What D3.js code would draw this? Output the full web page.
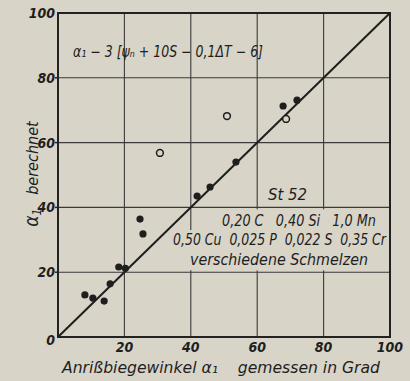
<!DOCTYPE html>
<html>
<head>
<meta charset="utf-8">
<script src="https://cdn.jsdelivr.net/npm/d3@7"></script>
<style>
  body { margin: 0; background: #d8d4c8; }
  text { font-family: "Liberation Sans Narrow", "DejaVu Sans Condensed", sans-serif; font-style: italic; fill: #1e1e1e; }
</style>
</head>
<body>
<div id="chart"></div>
<script>
var filledX = [8.1, 10.5, 13.9, 15.7, 18.3, 20.3, 24.7, 25.6, 41.9, 45.8, 53.6, 67.8, 72.0];
var filledY = [13.0, 12.0, 11.1, 16.4, 21.6, 21.2, 36.4, 31.8, 43.5, 46.3, 54.0, 71.3, 73.1];
var openX = [30.7, 50.9, 68.7];
var openY = [56.8, 68.2, 67.3];
var xTicks = [20, 40, 60, 80, 100];
var yTicks = [0, 20, 40, 60, 80, 100];
var gridVals = [20, 40, 60, 80];

var width = 410, height = 381;
var bg = "#d8d4c8";

var svg = d3.select("#chart").append("svg")
  .attr("width", width)
  .attr("height", height);

svg.append("rect").attr("width", width).attr("height", height).attr("fill", bg);

var x = d3.scaleLinear().domain([0, 100]).range([58, 390]);
var y = d3.scaleLinear().domain([0, 100]).range([337, 13]);

// grid
svg.selectAll(".vg").data(gridVals).enter().append("line")
  .attr("x1", d => x(d)).attr("x2", d => x(d))
  .attr("y1", y(100)).attr("y2", y(0))
  .attr("stroke", "#3a3a3a").attr("stroke-width", 1.1);
svg.selectAll(".hg").data(gridVals).enter().append("line")
  .attr("y1", d => y(d)).attr("y2", d => y(d))
  .attr("x1", x(0)).attr("x2", x(100))
  .attr("stroke", "#3a3a3a").attr("stroke-width", 1.1);

// area behind the steel composition text (hides grid there)
svg.append("rect")
  .attr("x", x(37)).attr("width", x(99.5) - x(37))
  .attr("y", y(33)).attr("height", y(20.6) - y(33))
  .attr("fill", bg);
svg.append("rect")
  .attr("x", x(43)).attr("width", x(99.5) - x(43))
  .attr("y", y(39.4)).attr("height", y(20.6) - y(39.4))
  .attr("fill", bg);

// frame
svg.append("rect")
  .attr("x", x(0)).attr("y", y(100))
  .attr("width", x(100) - x(0)).attr("height", y(0) - y(100))
  .attr("fill", "none").attr("stroke", "#222").attr("stroke-width", 2);

// left ticks
svg.selectAll(".yt").data(yTicks.slice(1, 5)).enter().append("line")
  .attr("x1", x(0) - 3).attr("x2", x(0))
  .attr("y1", d => y(d)).attr("y2", d => y(d))
  .attr("stroke", "#222").attr("stroke-width", 1.5);

// tick labels
svg.selectAll(".xl").data(xTicks).enter().append("text")
  .attr("x", d => x(d)).attr("y", 352)
  .attr("text-anchor", "middle")
  .style("font-size", "14px").style("font-weight", "bold")
  .text(d => d);
svg.selectAll(".yl").data(yTicks).enter().append("text")
  .attr("x", x(0) - 3).attr("y", d => y(d) + 5 + (d === 0 ? 3 : 0))
  .attr("text-anchor", "end")
  .style("font-size", "14px").style("font-weight", "bold")
  .text(d => d);

// diagonal
svg.append("line")
  .attr("x1", x(0)).attr("y1", y(0))
  .attr("x2", x(100)).attr("y2", y(100))
  .attr("stroke", "#1e1e1e").attr("stroke-width", 2);

// points
svg.selectAll(".fp").data(filledX).enter().append("circle")
  .attr("cx", d => x(d))
  .attr("cy", (d, i) => y(filledY[i]))
  .attr("r", 3.6)
  .attr("fill", "#1e1e1e");
svg.selectAll(".op").data(openX).enter().append("circle")
  .attr("cx", d => x(d))
  .attr("cy", (d, i) => y(openY[i]))
  .attr("r", 3.4)
  .attr("fill", bg).attr("stroke", "#1e1e1e").attr("stroke-width", 1.5);

function label(tx, ty, size, len, str) {
  return svg.append("text")
    .attr("x", tx).attr("y", ty)
    .style("font-size", size + "px")
    .attr("xml:space", "preserve")
    .attr("textLength", len).attr("lengthAdjust", "spacingAndGlyphs")
    .text(str);
}

// formula
label(73, 57, 15, 190, "α₁ − 3 [ψₙ + 10S − 0,1ΔT − 6]");

// steel text
label(268, 200, 16, 39, "St 52");
label(222, 226, 15, 154, "0,20 C   0,40 Si   1,0 Mn");
label(173, 245, 15, 213, "0,50 Cu  0,025 P  0,022 S  0,35 Cr");
label(190, 265, 15, 178, "verschiedene Schmelzen");

// axis titles
label(62, 373, 16, 318, "Anrißbiegewinkel α₁    gemessen in Grad");
svg.append("text")
  .attr("transform", "translate(38,174) rotate(-90)")
  .attr("text-anchor", "middle").style("font-size", "16px")
  .attr("xml:space", "preserve")
  .html('<tspan style="font-size:19px">α</tspan><tspan style="font-size:12px" dy="3">1</tspan><tspan dy="-3">   berechnet</tspan>');
</script>
</body>
</html>
